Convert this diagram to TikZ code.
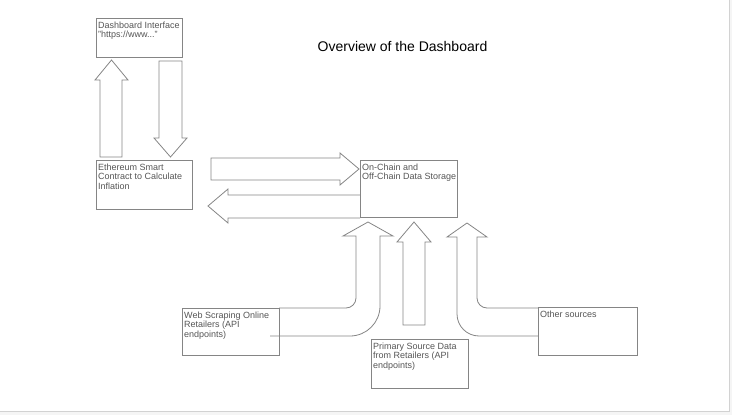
\documentclass[tikz,border=0pt]{standalone}
\usepackage{fontspec}
\setmainfont{Liberation Sans}
\usepackage{xcolor}
\usetikzlibrary{positioning}

\definecolor{linegray}{HTML}{858585}
\definecolor{textgray}{HTML}{555555}

\begin{document}
\begin{tikzpicture}[
    x=1pt, y=-1pt,
    box/.style={rectangle, draw=linegray, line width=0.8pt, anchor=north west, inner sep=0pt},
    boxtext/.style={anchor=north west, align=left, inner xsep=2pt, inner ysep=3.5pt, text=textgray, font=\fontsize{9}{9.4}\selectfont},
    blockarrow/.style={draw=linegray, line width=0.8pt, line join=miter},
    heading/.style={font=\fontsize{14}{16}\selectfont, text=black}
]
    \useasboundingbox (0,0) rectangle (732,415);

    % Page edge
    \fill[gray!8] (0,411) rectangle (732,415);
    \fill[gray!8] (729,0) rectangle (732,415);
    \draw[gray!35, line width=1pt] (729,0) -- (729,411) -- (0,411);

    % Title
    \node[heading] (title) at (402.5,46) {Overview of the Dashboard};

    % Dashboard interface
    \node[box, minimum width=86, minimum height=39] (dash) at (96,18) {};
    \node[boxtext] (dash-txt) at (dash.north west) {Dashboard Interface\\"https://www..."};

    % Ethereum smart contract
    \node[box, minimum width=96, minimum height=49] (eth) at (96,160) {};
    \node[boxtext] (eth-txt) at (eth.north west) {Ethereum Smart\\Contract to Calculate\\Inflation};

    % Data storage
    \node[box, minimum width=97, minimum height=57] (store) at (360,160) {};
    \node[boxtext] (store-txt) at (store.north west) {On-Chain and\\Off-Chain Data Storage};

    % Sources
    \node[box, minimum width=97, minimum height=47] (web) at (182,308) {};
    \node[boxtext] (web-txt) at (web.north west) {Web Scraping Online\\Retailers (API\\endpoints)};

    \node[box, minimum width=97, minimum height=49] (prim) at (371,339) {};
    \node[boxtext] (prim-txt) at (prim.north west) {Primary Source Data\\from Retailers (API\\endpoints)};

    \node[box, minimum width=99, minimum height=48] (other) at (538,307) {};
    \node[boxtext] (other-txt) at (other.north west) {Other sources};

    % Ethereum <-> dashboard
    \draw[blockarrow] (100,157) -- (100,80) -- (95,80) -- (111.5,60) -- (128,80) -- (122,80) -- (122,157) -- cycle;
    \draw[blockarrow] (159,61) -- (159,138) -- (154,138) -- (170.5,157) -- (187,138) -- (182,138) -- (182,61) -- cycle;

    % Ethereum <-> storage
    \draw[blockarrow] (211,158) -- (340,158) -- (340,153) -- (359,169) -- (340,185) -- (340,180) -- (211,180) -- cycle;
    \draw[blockarrow] (360,195) -- (228,195) -- (228,189) -- (208,206) -- (228,223) -- (228,218) -- (360,218);

    % Web scraping -> storage
    \draw[blockarrow] (279,308) [rounded corners=10pt] -- (356,308) -- (356,260) [sharp corners] -- (356,236)
        -- (343,236) -- (368,222) -- (393,236) -- (380,236) -- (380,260) [rounded corners=30pt] -- (380,336)
        -- (300,336) [sharp corners] -- (279,336);

    % Primary source -> storage
    \draw[blockarrow] (403,325) -- (403,242) -- (397,242) -- (414,222) -- (431,242) -- (425,242) -- (425,325) -- cycle;

    % Other sources -> storage
    \draw[blockarrow] (538,308) [rounded corners=10pt] -- (477,308) -- (477,260) [sharp corners] -- (477,237)
        -- (487,237) -- (467,223) -- (447,237) -- (457,237) -- (457,260) [rounded corners=22pt] -- (457,336)
        -- (500,336) [sharp corners] -- (538,336);
\end{tikzpicture}
\end{document}
